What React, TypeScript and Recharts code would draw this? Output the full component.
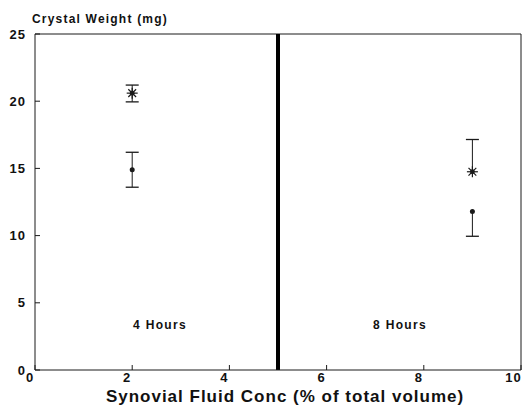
import { ScatterChart, Scatter, XAxis, YAxis, ErrorBar, ReferenceLine } from 'recharts';

// x positions (% synovial fluid) for the two time points
const concs = [2, 9];
const groups = ['4 Hours', '8 Hours'];

// asterisk series
const starMean = [20.6, 14.75];
const starLow = [19.95, 14.75];
const starHigh = [21.2, 17.15];

// dot series
const dotMean = [14.9, 11.8];
const dotLow = [13.6, 9.95];
const dotHigh = [16.2, 11.8];

const xTicks = [0, 2, 4, 6, 8, 10];
const yTicks = [0, 5, 10, 15, 20, 25];

const build = (mean: number[], low: number[], high: number[]) =>
  concs.map((x, i) => ({ x, y: mean[i], err: [mean[i] - low[i], high[i] - mean[i]] }));

const caps = (mean: number[], low: number[], high: number[]) => {
  const out: { x: number; y: number }[] = [];
  concs.forEach((x, i) => {
    if (low[i] < mean[i]) out.push({ x, y: low[i] });
    if (high[i] > mean[i]) out.push({ x, y: high[i] });
  });
  return out;
};

const starData = build(starMean, starLow, starHigh);
const dotData = build(dotMean, dotLow, dotHigh);
const capData = [...caps(starMean, starLow, starHigh), ...caps(dotMean, dotLow, dotHigh)];

const ink = '#1a1a1a';

const Asterisk = (props: any) => {
  const { cx, cy } = props;
  const r = 5.5;
  const arms = [0, 45, 90, 135].map((a) => {
    const rad = (a * Math.PI) / 180;
    const dx = Math.cos(rad) * r;
    const dy = Math.sin(rad) * r;
    return <line key={a} x1={cx - dx} y1={cy - dy} x2={cx + dx} y2={cy + dy} stroke={ink} strokeWidth={1.2} />;
  });
  return (
    <g>
      {arms}
      <circle cx={cx} cy={cy} r={2.4} fill={ink} />
    </g>
  );
};

const Dot = (props: any) => <circle cx={props.cx} cy={props.cy} r={2.5} fill={ink} />;

const Cap = (props: any) => (
  <line x1={props.cx - 6.5} y1={props.cy} x2={props.cx + 6.5} y2={props.cy} stroke={ink} strokeWidth={1.3} />
);

const labelStyle: React.CSSProperties = {
  position: 'absolute',
  fontWeight: 'bold',
  color: '#111',
  whiteSpace: 'nowrap',
  lineHeight: 1,
};

export default function App() {
  return (
    <div style={{ position: 'absolute', left: 0, top: 0, width: 526, height: 415, background: '#fff', fontFamily: '"Liberation Sans", Arial, sans-serif' }}>
      <ScatterChart width={526} height={415} margin={{ top: 34, right: 5, bottom: 0, left: 0 }}>
        <XAxis
          type="number"
          dataKey="x"
          domain={[0, 10]}
          ticks={xTicks}
          height={45}
          stroke={ink}
          tickSize={-5}
          tickMargin={8}
          tick={{ fill: '#111', fontSize: 13, fontWeight: 'bold', letterSpacing: 1, dx: -5 }}
        />
        <YAxis
          type="number"
          dataKey="y"
          domain={[0, 25]}
          ticks={yTicks}
          width={35}
          stroke={ink}
          tickSize={-5}
          tickMargin={14}
          tick={{ fill: '#111', fontSize: 13, fontWeight: 'bold', letterSpacing: 1 }}
        />
        <ReferenceLine y={25} stroke={ink} strokeWidth={1} />
        <ReferenceLine x={10} stroke={ink} strokeWidth={1} />
        <ReferenceLine x={5} stroke="#000" strokeWidth={4} />
        <Scatter data={starData} shape={Asterisk} isAnimationActive={false}>
          <ErrorBar dataKey="err" direction="y" width={0} stroke={ink} strokeWidth={1} />
        </Scatter>
        <Scatter data={dotData} shape={Dot} isAnimationActive={false}>
          <ErrorBar dataKey="err" direction="y" width={0} stroke={ink} strokeWidth={1} />
        </Scatter>
        <Scatter data={capData} shape={Cap} isAnimationActive={false} />
      </ScatterChart>
      <div style={{ ...labelStyle, left: 32, top: 13, fontSize: 12, letterSpacing: 1.2 }}>Crystal Weight (mg)</div>
      <div style={{ ...labelStyle, left: 160, top: 319, fontSize: 12, letterSpacing: 1.3, transform: 'translateX(-50%)' }}>{groups[0]}</div>
      <div style={{ ...labelStyle, left: 400, top: 319, fontSize: 12, letterSpacing: 1.3, transform: 'translateX(-50%)' }}>{groups[1]}</div>
      <div style={{ ...labelStyle, left: 285, top: 388, fontSize: 17, letterSpacing: 1, transform: 'translateX(-50%)' }}>
        Synovial Fluid Conc (% of total volume)
      </div>
    </div>
  );
}
